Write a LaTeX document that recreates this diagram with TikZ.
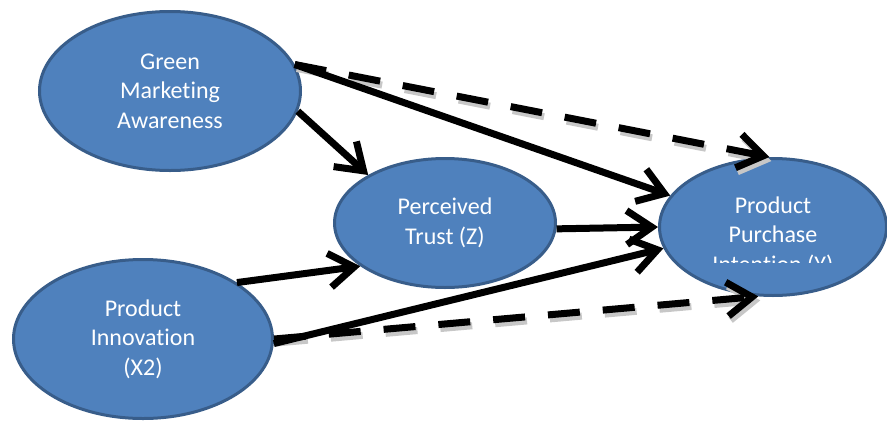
\documentclass[tikz,border=0pt]{standalone}
\usepackage{fontspec}
\setmainfont[Ligatures={TeX,NoCommon}]{Carlito}
\usetikzlibrary{arrows.meta,shapes.geometric}
\definecolor{nodeblue}{RGB}{79,129,189}
\definecolor{rimblue}{RGB}{56,93,138}

\tikzset{
    var/.style={ellipse, fill=nodeblue, draw=rimblue, line width=3pt, text=white,
        align=center, inner sep=0pt, font=\fontsize{24}{29.5}\selectfont},
    shade/.style={preaction={draw=black!22, line width=7pt,
        dash pattern=on 32pt off 23pt, transform canvas={shift={(2pt,-4pt)}}}},
    link/.style={line width=7pt, -{Straight Barb[length=25pt,width=34pt]}},
    dashlink/.style={link, shade, dash pattern=on 32pt off 23pt}
}

\begin{document}
\begin{tikzpicture}[x=1pt, y=-1pt]
    \useasboundingbox (0,0) rectangle (887,421);

    % Variables
    \node[var, minimum width=261pt, minimum height=159pt] (awareness) at (170,91)
        {Green\\Marketing\\Awareness};
    \node[var, minimum width=221pt, minimum height=129pt] (trust) at (445,223)
        {Perceived\\Trust (Z)};
    \node[var, minimum width=227pt, minimum height=137pt] (intention) at (773,227) {};
    \node[var, minimum width=259pt, minimum height=159pt] (innovation) at (143,339)
        {Product\\Innovation\\(X2)};

    % Text of the dependent variable, cut off at the bottom
    \begin{scope}
        \clip (650,150) rectangle (890,262);
        \node[var, draw=none, fill=none] (intentiontext) at (773,236)
            {Product\\Purchase\\Intention (Y)};
    \end{scope}

    % Direct effects
    \draw[dashlink] (awareness.12) -- (intention.93);
    \draw[dashlink] (innovation.0) -- (intention.258);

    % Paths
    \draw[link] (awareness.12) -- (intention.163);
    \draw[link] (awareness.-9) -- (trust.148);
    \draw[link] (innovation.31) -- (trust.207);
    \draw[link] (trust.-3) -- (intention.180);
    \draw[link] (innovation.-2) -- (intention.191);
\end{tikzpicture}
\end{document}
